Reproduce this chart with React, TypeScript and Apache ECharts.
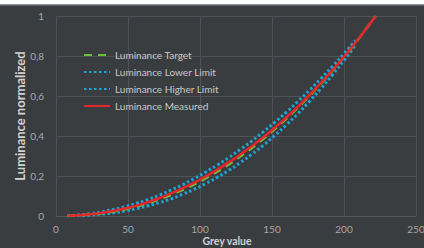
import React, { useEffect, useRef } from "react";
import * as echarts from "echarts";

const grey = [8, 16, 24, 32, 40, 48, 56, 64, 72, 80, 88, 96, 104, 112, 120, 128, 136, 144, 152, 160, 168, 176, 184, 192, 200, 208, 216, 222];
const target = [0.001, 0.003, 0.008, 0.014, 0.023, 0.034, 0.048, 0.065, 0.084, 0.106, 0.131, 0.158, 0.189, 0.222, 0.258, 0.298, 0.34, 0.386, 0.435, 0.487, 0.542, 0.6, 0.662, 0.727, 0.795, 0.866, 0.942, 1.0];
const measured = [0.001, 0.004, 0.009, 0.016, 0.026, 0.038, 0.052, 0.07, 0.09, 0.113, 0.139, 0.167, 0.198, 0.232, 0.268, 0.307, 0.349, 0.394, 0.442, 0.493, 0.547, 0.604, 0.665, 0.729, 0.796, 0.867, 0.942, 1.0];
const lowerLimit = [0.0, 0.002, 0.005, 0.01, 0.016, 0.025, 0.037, 0.051, 0.067, 0.086, 0.109, 0.134, 0.162, 0.194, 0.228, 0.267, 0.309, 0.354, 0.403, 0.456, 0.512, 0.573, 0.637, 0.706, 0.778, 0.855];
const higherLimit = [0.001, 0.005, 0.012, 0.021, 0.033, 0.047, 0.064, 0.083, 0.105, 0.13, 0.157, 0.187, 0.22, 0.255, 0.292, 0.333, 0.375, 0.421, 0.469, 0.519, 0.573, 0.629, 0.687, 0.748, 0.812, 0.878];

const xTicks = { min: 0, max: 250, interval: 50 };
const yTicks = { min: 0, max: 1, interval: 0.2 };

const pair = (xs: number[], ys: number[]) => ys.map((y, i) => [xs[i], y]);

export default function App() {
  const ref = useRef<HTMLDivElement>(null);
  useEffect(() => {
    if (!ref.current) return;
    const chart = echarts.init(ref.current, undefined, { renderer: "svg" });
    const font = "Lato";
    chart.setOption({
      animation: false,
      backgroundColor: "#3a3d40",
      textStyle: { fontFamily: font },
      graphic: [
        { type: "rect", shape: { x: 0, y: 0, width: 424, height: 4 }, style: { fill: "#ffffff" } },
        { type: "rect", shape: { x: 0, y: 4, width: 424, height: 1.5 }, style: { fill: "#8a8c8e" } },
      ],
      grid: { left: 56, right: 8, top: 16, bottom: 32, outerBoundsMode: "none", containLabel: false },
      legend: {
        orient: "vertical",
        left: 78,
        top: 45,
        padding: 5,
        itemWidth: 26,
        itemHeight: 10,
        itemGap: 7,
        itemStyle: { opacity: 0 },
        textStyle: { color: "#c9c9c9", fontSize: 10, fontFamily: font },
        data: ["Luminance Target", "Luminance Lower Limit", "Luminance Higher Limit", "Luminance Measured"],
      },
      xAxis: {
        type: "value",
        ...xTicks,
        name: "Grey value",
        nameLocation: "middle",
        nameGap: 19,
        nameMoveOverlap: false,
        nameTextStyle: { color: "#d2d2d2", fontSize: 10.5, fontWeight: "bold", fontFamily: font, padding: [0, 18, 0, 0] },
        axisLine: { show: true, lineStyle: { color: "#55585c" } },
        axisTick: { show: false },
        axisLabel: { color: "#a8a8a8", fontSize: 10, margin: 8 },
        splitLine: { show: true, lineStyle: { color: "#4f5256", width: 1 } },
      },
      yAxis: {
        type: "value",
        ...yTicks,
        name: "Luminance normalized",
        nameLocation: "middle",
        nameGap: 30,
        nameMoveOverlap: false,
        nameTextStyle: { color: "#d2d2d2", fontSize: 13, fontWeight: "bold", fontFamily: font },
        axisLine: { show: false },
        axisTick: { show: false },
        axisLabel: {
          color: "#a8a8a8",
          fontSize: 10,
          margin: 12,
          formatter: (v: number) => String(Number(v.toFixed(1))).replace(".", ","),
        },
        splitLine: { show: true, lineStyle: { color: "#4f5256", width: 1 } },
      },
      series: [
        {
          name: "Luminance Lower Limit",
          type: "line",
          data: pair(grey, lowerLimit),
          symbol: "none",
          smooth: true,
          itemStyle: { color: "#1ba6d6" },
          lineStyle: { color: "#1ba6d6", width: 3, type: [2.5, 2.5] },
        },
        {
          name: "Luminance Higher Limit",
          type: "line",
          data: pair(grey, higherLimit),
          symbol: "none",
          smooth: true,
          itemStyle: { color: "#1ba6d6" },
          lineStyle: { color: "#1ba6d6", width: 3, type: [2.5, 2.5] },
        },
        {
          name: "Luminance Target",
          type: "line",
          data: pair(grey, target),
          symbol: "none",
          smooth: true,
          itemStyle: { color: "#6cbf3e" },
          lineStyle: { color: "#6cbf3e", width: 2.5, type: [8, 6] },
        },
        {
          name: "Luminance Measured",
          type: "line",
          data: pair(grey, measured),
          symbol: "none",
          smooth: true,
          itemStyle: { color: "#e5262a" },
          lineStyle: { color: "#e5262a", width: 2.5 },
        },
      ],
    });
    return () => chart.dispose();
  }, []);
  return (
    <div style={{ position: "fixed", left: 0, top: 0, width: 424, height: 248 }}>
      <div ref={ref} style={{ width: 424, height: 248 }} />
    </div>
  );
}
